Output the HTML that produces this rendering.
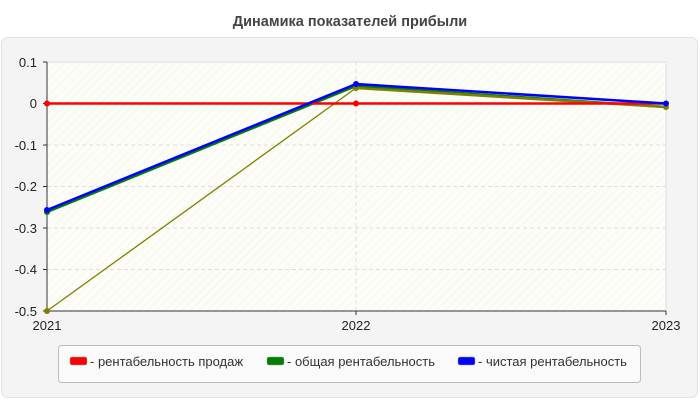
<!DOCTYPE html>
<html><head><meta charset="utf-8"><style>
body{margin:0;background:#fff;font-family:"Liberation Sans",sans-serif;}
</style></head><body>
<svg width="700" height="400" xmlns="http://www.w3.org/2000/svg" font-family="Liberation Sans, sans-serif">
<defs><pattern id="h" width="6" height="6" patternUnits="userSpaceOnUse" patternTransform="rotate(45)"><rect width="6" height="6" fill="#fdfdf8"/><line x1="0" y1="0" x2="0" y2="6" stroke="#f0f0ec" stroke-width="1"/></pattern></defs>
<text x="350" y="26" text-anchor="middle" font-size="14.5" font-weight="bold" fill="#444">Динамика показателей прибыли</text>
<rect x="1.5" y="37.5" width="696" height="360" rx="6" fill="#f4f4f4" stroke="#e2e2e2"/>
<rect x="47" y="62" width="619" height="249" fill="url(#h)"/>
<g stroke="#ddd" stroke-dasharray="4,3">
<line x1="47" y1="145" x2="666" y2="145"/><line x1="47" y1="186.5" x2="666" y2="186.5"/><line x1="47" y1="228" x2="666" y2="228"/><line x1="47" y1="269.5" x2="666" y2="269.5"/><line x1="47" y1="103.5" x2="666" y2="103.5"/>
<line x1="356" y1="62" x2="356" y2="311"/>
</g>
<line x1="47" y1="62" x2="666" y2="62" stroke="#ddd"/><line x1="666" y1="62" x2="666" y2="311" stroke="#ddd"/>
<line x1="47" y1="62" x2="47" y2="311" stroke="#333"/><line x1="47" y1="311" x2="666" y2="311" stroke="#333"/>
<g stroke="#333"><line x1="43" y1="62" x2="47" y2="62"/><line x1="43" y1="103.5" x2="47" y2="103.5"/><line x1="43" y1="145" x2="47" y2="145"/><line x1="43" y1="186.5" x2="47" y2="186.5"/><line x1="43" y1="228" x2="47" y2="228"/><line x1="43" y1="269.5" x2="47" y2="269.5"/><line x1="43" y1="311" x2="47" y2="311"/><line x1="356" y1="311" x2="356" y2="315"/><line x1="666" y1="311" x2="666" y2="315"/></g>
<g font-size="13" fill="#222" text-anchor="end">
<text x="37" y="67">0.1</text><text x="37" y="108">0</text><text x="37" y="150">-0.1</text><text x="37" y="191">-0.2</text><text x="37" y="233">-0.3</text><text x="37" y="274">-0.4</text><text x="37" y="316">-0.5</text>
</g>
<g font-size="13" fill="#222" text-anchor="middle"><text x="47" y="330">2021</text><text x="356" y="330">2022</text><text x="666" y="330">2023</text></g>
<polyline points="47,212 356,86 666,107" fill="none" stroke="#008000" stroke-width="2.5"/>
<polyline points="47,311 356,88" fill="none" stroke="#808000" stroke-width="1.3"/>
<polyline points="356,88 666,107" fill="none" stroke="#808000" stroke-width="2.5"/>
<polyline points="47,103.5 356,103.5 666,103.5" fill="none" stroke="#ff0000" stroke-width="2.5"/>
<polyline points="47,210 356,84 666,103.5" fill="none" stroke="#0000ff" stroke-width="2.5"/>
<g fill="#ff0000"><circle cx="47" cy="103.5" r="3"/><circle cx="356" cy="103.5" r="3"/></g>
<g fill="#008000"><circle cx="47" cy="212" r="3"/></g>
<g fill="#808000"><circle cx="47" cy="311" r="3"/><circle cx="356" cy="88" r="3"/><circle cx="666" cy="107" r="3"/></g>
<g fill="#0000ff"><circle cx="47" cy="210" r="3"/><circle cx="356" cy="84" r="3"/><circle cx="666" cy="103.5" r="3"/></g>
<rect x="58.5" y="345.5" width="582" height="37" rx="3" fill="#fafafa" stroke="#bbb"/>
<g font-size="13" fill="#333">
<rect x="70" y="357" width="17" height="8" rx="2" fill="#ff0000" stroke="#999" stroke-width="0.5"/><text x="90" y="366">- рентабельность продаж</text>
<rect x="267" y="357" width="17" height="8" rx="2" fill="#008000" stroke="#999" stroke-width="0.5"/><text x="287" y="366">- общая рентабельность</text>
<rect x="458" y="357" width="17" height="8" rx="2" fill="#0000ff" stroke="#999" stroke-width="0.5"/><text x="478" y="366">- чистая рентабельность</text>
</g>
</svg>
</body></html>
